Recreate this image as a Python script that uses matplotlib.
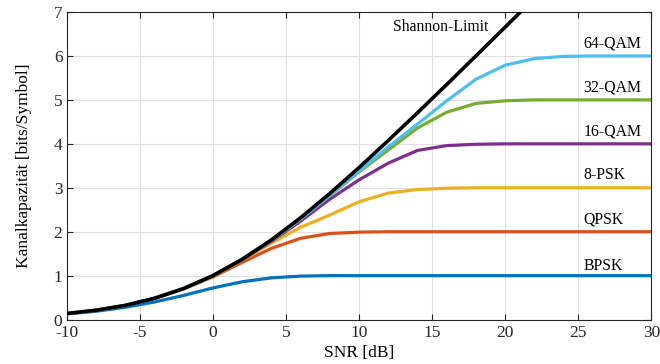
import numpy as np
import matplotlib
matplotlib.use("Agg")
import matplotlib.pyplot as plt

plt.rcParams['font.family'] = ['Liberation Serif', 'DejaVu Serif']
plt.rcParams['axes.unicode_minus'] = False

# SNR grid in dB (2 dB steps)
snr = [-10, -8, -6, -4, -2, 0, 2, 4, 6, 8, 10, 12, 14, 16, 18, 20, 22, 24, 26, 28, 30]

# Shannon limit up to 22 dB (leaves the plot above 7)
snr_shannon = [-10, -8, -6, -4, -2, 0, 2, 4, 6, 8, 10, 12, 14, 16, 18, 20, 22]
shannon = [0.137, 0.212, 0.322, 0.484, 0.706, 1.0, 1.370, 1.812, 2.317, 2.870,
           3.459, 4.075, 4.707, 5.351, 6.002, 6.658, 7.317]

bpsk = [0.13, 0.19, 0.28, 0.40, 0.55, 0.72, 0.86, 0.95, 0.99, 1.0, 1.0,
        1.0, 1.0, 1.0, 1.0, 1.0, 1.0, 1.0, 1.0, 1.0, 1.0]
qpsk = [0.137, 0.21, 0.32, 0.48, 0.70, 0.97, 1.30, 1.62, 1.85, 1.96, 1.99,
        2.0, 2.0, 2.0, 2.0, 2.0, 2.0, 2.0, 2.0, 2.0, 2.0]
psk8 = [0.137, 0.212, 0.322, 0.484, 0.705, 0.99, 1.35, 1.74, 2.10, 2.38, 2.68,
        2.88, 2.96, 2.99, 3.0, 3.0, 3.0, 3.0, 3.0, 3.0, 3.0]
qam16 = [0.137, 0.212, 0.322, 0.484, 0.706, 1.0, 1.36, 1.78, 2.24, 2.74, 3.18,
         3.56, 3.85, 3.96, 3.99, 4.0, 4.0, 4.0, 4.0, 4.0, 4.0]
qam32 = [0.137, 0.212, 0.322, 0.484, 0.706, 1.0, 1.37, 1.80, 2.29, 2.82, 3.36,
         3.86, 4.36, 4.72, 4.92, 4.98, 5.0, 5.0, 5.0, 5.0, 5.0]
qam64 = [0.137, 0.212, 0.322, 0.484, 0.706, 1.0, 1.37, 1.80, 2.29, 2.83, 3.38,
         3.93, 4.45, 4.98, 5.47, 5.79, 5.94, 5.99, 6.0, 6.0, 6.0]

names = ['BPSK', 'QPSK', '8-PSK', '16-QAM', '32-QAM', '64-QAM']
curves = [bpsk, qpsk, psk8, qam16, qam32, qam64]
colors = ['#0072BD', '#D95319', '#EDB120', '#7E2F8E', '#77AC30', '#4DBEEE']
label_y = [1.22, 2.28, 3.29, 4.28, 5.28, 6.28]

fig = plt.figure(figsize=(6.6, 3.64), dpi=100)
ax = fig.add_axes([0.101, 0.122, 0.886, 0.845])

for name, c, col in zip(names, curves, colors):
    ax.plot(snr, c, color=col, lw=2.3, solid_capstyle='butt', zorder=3)
ax.plot(snr_shannon, shannon, color='black', lw=2.6, zorder=4)

for name, ly in zip(names, label_y):
    ax.text(25.35, ly, name, ha='left', va='center', fontsize=11.3)
ax.text(15.6, 6.67, 'Shannon-Limit', ha='center', va='center', fontsize=11.3)

ax.set_xlim(-10, 30)
ax.set_ylim(0, 7)
ax.set_xticks([-10, -5, 0, 5, 10, 15, 20, 25, 30])
ax.set_yticks(range(8))
ax.grid(True, color='#dfdfdf', lw=0.8)
ax.set_axisbelow(True)
ax.tick_params(direction='in', top=True, right=True, length=4, width=0.8,
               labelsize=12.5, colors='#262626', pad=3)
ax.tick_params(axis='x', pad=4)
for s in ax.spines.values():
    s.set_color('#262626')
    s.set_linewidth(0.8)
ax.set_xlabel('SNR [dB]', fontsize=12.5, labelpad=3)
ax.set_ylabel('Kanalkapazität [bits/Symbol]', fontsize=12.5, labelpad=16)

fig.savefig('out.png', dpi=100)
